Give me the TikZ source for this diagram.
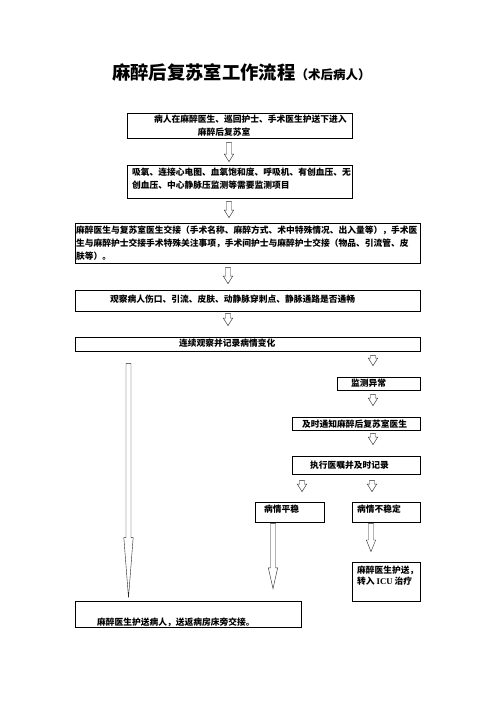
\documentclass[tikz,border=0pt]{standalone}
\usepackage{fontspec}
\setmainfont{Liberation Serif}
\newfontfamily\cjk{Noto Sans CJK SC}
\usetikzlibrary{calc,fit}
\tikzset{%
	box/.style    = {draw, line width=0.8pt, inner sep=0pt}, % frame
	txt/.style    = {anchor=west, inner sep=0pt, align=left,
		font=\cjk\bfseries\fontsize{10.5}{15.6}\selectfont}, % text in a frame
	hollow/.style = {draw=black!85, line width=0.5pt, fill=white} % hollow arrow
}
% hollow arrow from #2 down to #3, head length #1
\newcommand{\hollowarrow}[3][9pt]{%
	\draw[hollow] let \p1=#2, \p2=#3 in
		(\x1-3pt,\y1) -- (\x1+3pt,\y1) -- (\x1+3pt,\y2+#1) -- (\x1+5.6pt,\y2+#1)
		-- (\x1,\y2) -- (\x1-5.6pt,\y2+#1) -- (\x1-3pt,\y2+#1) -- cycle;}

\begin{document}
\begin{tikzpicture}[x=1.2pt,y=-1.2pt]
			\useasboundingbox (0,0) rectangle (496,702);
			\node[anchor=west, inner sep=0pt] (title) at (112,72.5)
				{\cjk\bfseries\fontsize{22}{22}\selectfont 麻醉后复苏室工作流程{\fontsize{15}{15}\selectfont（术后病人）}};

			\node[box, fit={(127,113) (352,138)}] (b1) {};
			\node[box, fit={(127,165) (352,198)}] (b2) {};
			\node[box, fit={(75,223) (420,263)}] (b3) {};
			\node[box, fit={(75,290) (420,311)}] (b4) {};
			\node[box, fit={(75,337) (420,351)}] (b5) {};
			\node[box, fit={(337,377) (420,390)}] (b6) {};
			\node[box, fit={(292,417) (420,430)}] (b7) {};
			\node[box, fit={(292,456) (420,474)}] (b8) {};
			\node[box, fit={(255,502) (324,522)}] (b9) {};
			\node[box, fit={(352,502) (420,522)}] (b10) {};
			\node[box, fit={(352,562) (420,601)}] (b11) {};
			\node[box, fit={(75,601) (301,627)}] (b12) {};

			\node[txt] (t1) at (154,126) {病人在麻醉医生、巡回护士、手术医生护送下进入\\\hspace*{5em}麻醉后复苏室};
			\node[txt] (t2) at (132,178.5) {吸氧、连接心电图、血氧饱和度、呼吸机、有创血压、无\\创血压、中心静脉压监测等需要监测项目};
			\node[txt] (t3) at (76,243.5) {麻醉医生与复苏室医生交接（手术名称、麻醉方式、术中特殊情况、出入量等），手术医\\生与麻醉护士交接手术特殊关注事项，手术间护士与麻醉护士交接（物品、引流管、皮\\肤等）。};
			\node[txt] (t4) at (110,299) {观察病人伤口、引流、皮肤、动静脉穿刺点、静脉通路是否通畅};
			\node[txt] (t5) at (179,343) {连续观察并记录病情变化};
			\node[txt] (t6) at (351,383) {监测异常};
			\node[txt] (t7) at (302,424) {及时通知麻醉后复苏室医生};
			\node[txt] (t8) at (310,465) {执行医嘱并及时记录};
			\node[txt] (t9) at (264,509) {病情平稳};
			\node[txt] (t10) at (357,509) {病情不稳定};
			\node[txt, font=\cjk\bfseries\fontsize{10.5}{12.8}\selectfont] (t11) at (357,575.5)
				{麻醉医生护送，\\转入 {\rmfamily ICU} 治疗};
			\node[txt] (t12) at (97,622) {麻醉医生护送病人，送返病房床旁交接。};

			\hollowarrow{($(229,0 |- b1.south)+(0,4)$)}{($(229,0 |- b2.north)+(0,-3)$)}
			\hollowarrow{($(229,0 |- b2.south)+(0,3)$)}{($(229,0 |- b3.north)+(0,-5)$)}
			\hollowarrow{($(228,0 |- b3.south)+(0,4)$)}{($(228,0 |- b4.north)+(0,-6)$)}
			\hollowarrow{($(228,0 |- b4.south)+(0,2)$)}{($(228,0 |- b5.north)+(0,-11)$)}
			\hollowarrow{($(373,0 |- b5.south)+(0,4)$)}{($(373,0 |- b6.north)+(0,-11)$)}
			\hollowarrow{($(373,0 |- b6.south)+(0,4)$)}{($(373,0 |- b7.north)+(0,-11)$)}
			\hollowarrow{($(373,0 |- b7.south)+(0,3)$)}{($(373,0 |- b8.north)+(0,-11)$)}
			\hollowarrow{($(302,0 |- b8.south)+(0,6)$)}{($(302,0 |- b9.north)+(0,-10)$)}
			\hollowarrow{($(372,0 |- b8.south)+(0,6)$)}{($(372,0 |- b10.north)+(0,-10)$)}
			\hollowarrow[25pt]{($(273,0 |- b9.south)+(0,1)$)}{($(273,0 |- b12.north)+(0,-12)$)}
			\hollowarrow[14pt]{($(371,0 |- b10.south)+(0,1)$)}{($(371,0 |- b11.north)+(0,-10)$)}
			\hollowarrow[72pt]{($(128.5,0 |- b5.south)+(0,12)$)}{($(128.5,0 |- b12.north)+(0,-3)$)}
		\end{tikzpicture}
\end{document}
